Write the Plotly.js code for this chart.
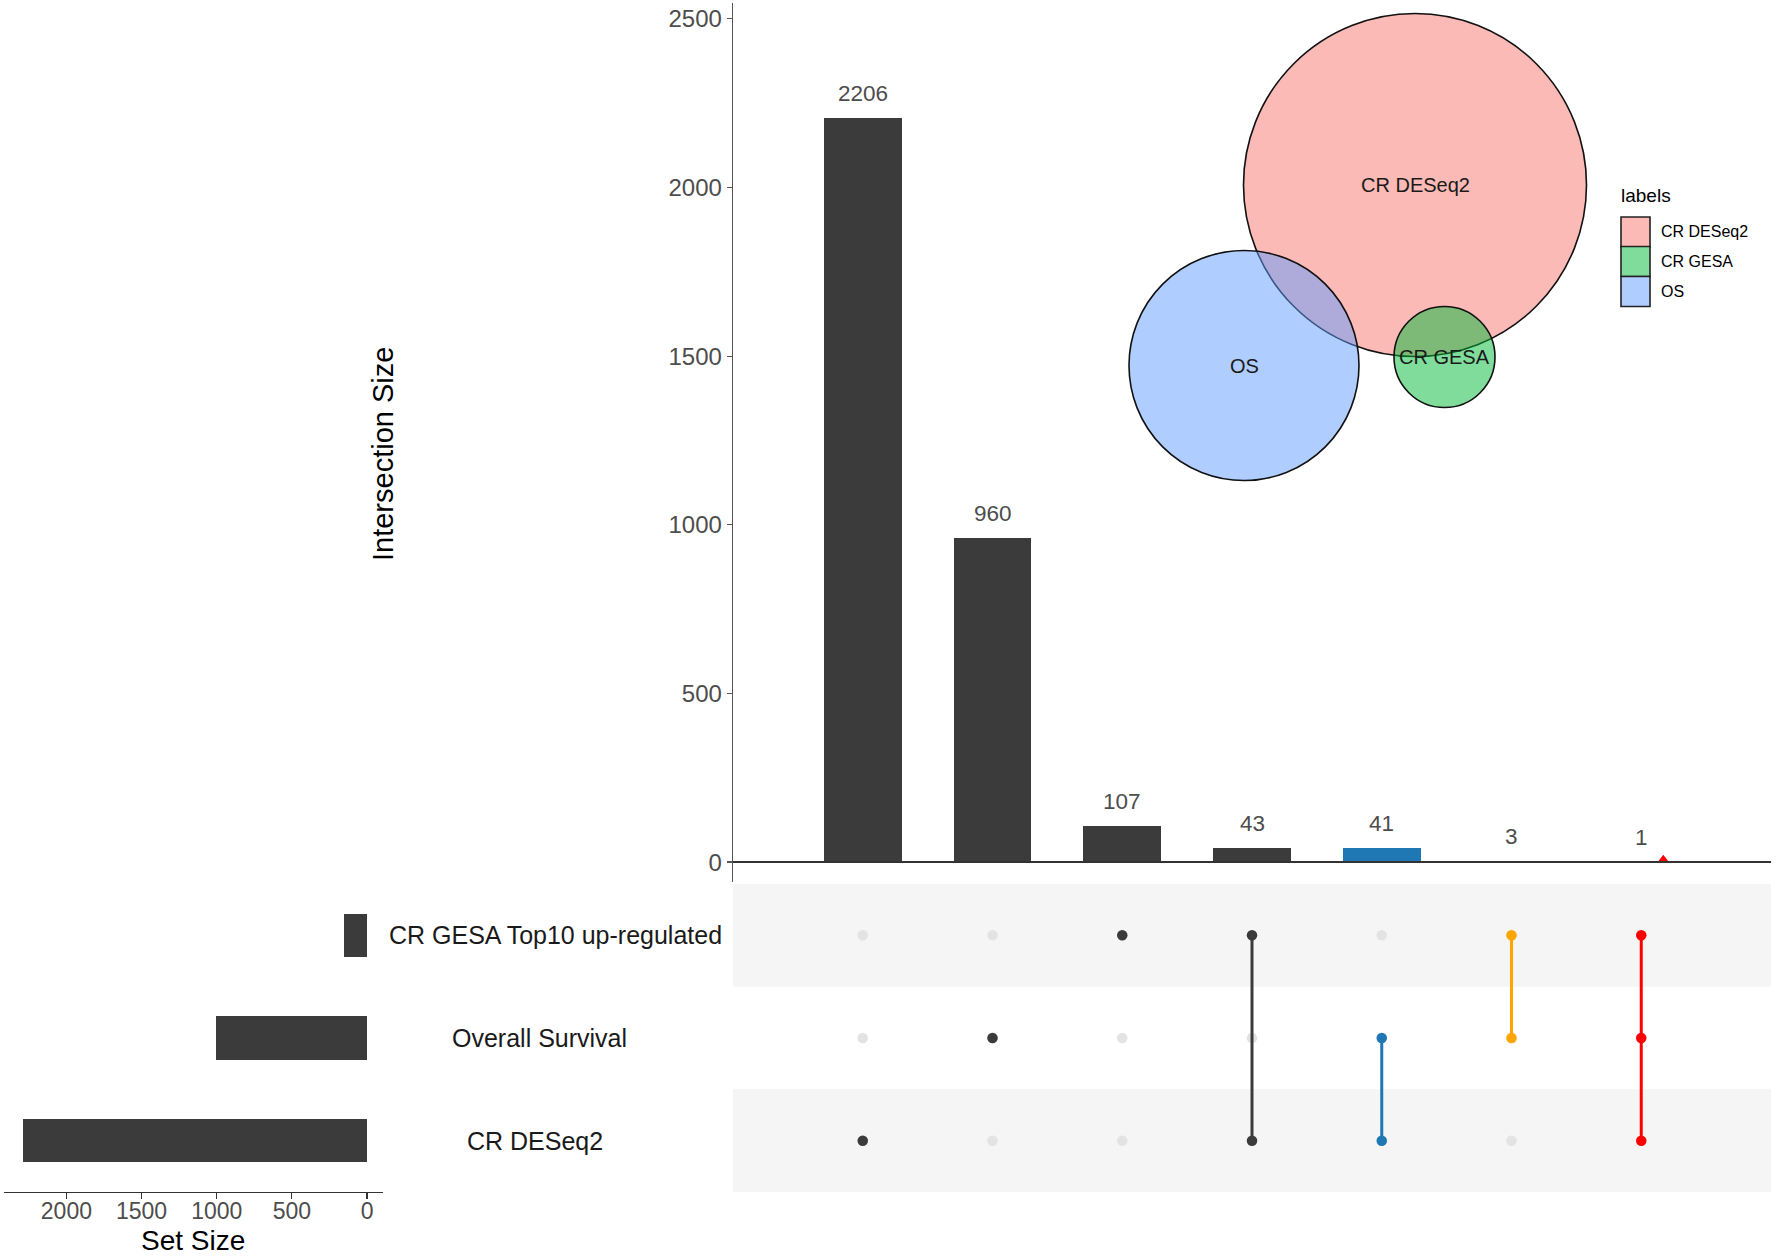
<!DOCTYPE html>
<html>
<head>
<meta charset="utf-8">
<script src="https://cdn.plot.ly/plotly-3.0.1.min.js"></script>
<style>html,body{margin:0;padding:0;background:#fff;}#chart{width:1776px;height:1256px;}</style>
</head>
<body>
<div id="chart"></div>
<script>
// ---------- DATA ----------
const setNames = ["CR GESA Top10 up-regulated", "Overall Survival", "CR DESeq2"];
const setSizes = [154, 1005, 2291];
const intersectionSizes = [2206, 960, 107, 43, 41, 3, 1];
// membership: indices into setNames for each intersection column
const membership = [[2], [1], [0], [0, 2], [1, 2], [0, 1], [0, 1, 2]];
const comboColors = ["#3b3b3b", "#3b3b3b", "#3b3b3b", "#3b3b3b", "#1f77b4", "#ffa500", "#ff0000"];
const yTicks = [0, 500, 1000, 1500, 2000, 2500];
const setSizeTicks = [0, 500, 1000, 1500, 2000];
// Venn inset (units: venn canvas)
const vennLabels = ["CR DESeq2", "OS", "CR GESA"];
const vennCx = [1415, 1244, 1444.5];
const vennCy = [185, 365.5, 357];
const vennR = [171.5, 115, 50.5];
const vennFill = ["rgba(248,118,109,0.5)", "rgba(97,156,255,0.5)", "rgba(0,186,56,0.5)"];
const legendLabels = ["CR DESeq2", "CR GESA", "OS"];
const legendFill = ["#fcbab6", "#7fdc9b", "#b0cdff"];

// ---------- HELPERS ----------
const W = 1776, H = 1256;
const px = x => x / W;
const py = y => 1 - y / H;
const FONT = "Liberation Sans, Arial, Helvetica, sans-serif";
const cols = intersectionSizes.map((_, i) => i + 1);
const rowOf = s => setNames.length - s; // set index -> y row (top row = 3)

const traces = [];

// Intersection bars
traces.push({
  type: "bar", x: cols, y: intersectionSizes, xaxis: "x", yaxis: "y",
  marker: { color: comboColors, line: { width: 0 } }, width: 0.6, hoverinfo: "x+y"
});
// small red triangle marker near last column
traces.push({
  type: "scatter", mode: "markers", x: [cols[6] + 0.17], y: [7], xaxis: "x", yaxis: "y",
  marker: { symbol: "triangle-up", size: 10, color: "#ff0000" }, hoverinfo: "skip"
});

// Set size bars
traces.push({
  type: "bar", orientation: "h", x: setSizes, y: setNames.map((_, i) => rowOf(i)),
  xaxis: "x3", yaxis: "y3", width: 0.42, marker: { color: "#3b3b3b" }, hoverinfo: "x"
});

// Matrix: background light dots
const bgX = [], bgY = [];
cols.forEach(c => setNames.forEach((_, s) => { bgX.push(c); bgY.push(rowOf(s)); }));
traces.push({
  type: "scatter", mode: "markers", x: bgX, y: bgY, xaxis: "x2", yaxis: "y2",
  marker: { size: 10.5, color: "#e3e3e3" }, hoverinfo: "skip"
});
// Matrix: connecting lines
membership.forEach((m, i) => {
  if (m.length > 1) {
    const rows = m.map(rowOf);
    traces.push({
      type: "scatter", mode: "lines", x: [cols[i], cols[i]],
      y: [Math.min(...rows), Math.max(...rows)], xaxis: "x2", yaxis: "y2",
      line: { color: comboColors[i], width: 3 }, hoverinfo: "skip"
    });
  }
});
// Matrix: active dots
const aX = [], aY = [], aC = [];
membership.forEach((m, i) => m.forEach(s => { aX.push(cols[i]); aY.push(rowOf(s)); aC.push(comboColors[i]); }));
traces.push({
  type: "scatter", mode: "markers", x: aX, y: aY, xaxis: "x2", yaxis: "y2",
  marker: { size: 10.5, color: aC }, hoverinfo: "skip"
});

// ---------- SHAPES ----------
const shapes = [];
// stripes
[3, 1].forEach(r => shapes.push({
  type: "rect", xref: "x2", yref: "y2", x0: 0, x1: 8, y0: r - 0.5, y1: r + 0.5,
  fillcolor: "#f5f5f5", line: { width: 0 }, layer: "below"
}));
// zero line (drawn over the bars)
shapes.push({ type: "line", xref: "x", yref: "y", x0: 0, x1: 8, y0: 0, y1: 0, line: { color: "#333", width: 2 }, layer: "above" });
// venn circles
vennLabels.forEach((_, i) => shapes.push({
  type: "circle", xref: "x4", yref: "y4",
  x0: vennCx[i] - vennR[i], x1: vennCx[i] + vennR[i], y0: vennCy[i] - vennR[i], y1: vennCy[i] + vennR[i],
  fillcolor: vennFill[i], line: { color: "#111", width: 1.6 }, layer: "above"
}));
// legend keys
const keyTop = [217, 246.5, 276.5], keyH = 30;
legendLabels.forEach((_, i) => shapes.push({
  type: "rect", xref: "paper", yref: "paper",
  x0: px(1621), x1: px(1650), y0: py(keyTop[i] + keyH), y1: py(keyTop[i]),
  fillcolor: legendFill[i], line: { color: "#222", width: 1.6 }
}));

// ---------- ANNOTATIONS ----------
const ann = [];
intersectionSizes.forEach((v, i) => ann.push({
  xref: "x", yref: "y", x: cols[i], y: v, text: String(v), showarrow: false,
  yanchor: "bottom", yshift: 10, font: { size: 22.5, color: "#4d4d4d", family: FONT }
}));
const labelCx = [555, 539, 535];
setNames.forEach((n, i) => ann.push({
  xref: "paper", yref: "y2", x: px(labelCx[i]), y: rowOf(i), text: n, showarrow: false,
  xanchor: "center", yanchor: "middle", font: { size: 25, color: "#1a1a1a", family: FONT }
}));
ann.push({
  xref: "paper", yref: "paper", x: px(383), y: py(454), text: "Intersection Size", textangle: -90,
  showarrow: false, xanchor: "center", yanchor: "middle", font: { size: 29, color: "#000", family: FONT }
});
ann.push({
  xref: "paper", yref: "paper", x: px(193), y: py(1240), text: "Set Size",
  showarrow: false, xanchor: "center", yanchor: "middle", font: { size: 28, color: "#000", family: FONT }
});
vennLabels.forEach((l, i) => ann.push({
  xref: "x4", yref: "y4", x: vennCx[i], y: vennCy[i], text: l, showarrow: false,
  xanchor: "center", yanchor: "middle", font: { size: 20, color: "#1a1a1a", family: FONT }
}));
ann.push({
  xref: "paper", yref: "paper", x: px(1619), y: py(196), text: "labels", showarrow: false,
  xanchor: "left", yanchor: "middle", font: { size: 19, color: "#000", family: FONT }
});
legendLabels.forEach((l, i) => ann.push({
  xref: "paper", yref: "paper", x: px(1659), y: py(keyTop[i] + keyH / 2), text: l, showarrow: false,
  xanchor: "left", yanchor: "middle", font: { size: 16, color: "#000", family: FONT }
}));

// ---------- LAYOUT ----------
const matrixDomain = [py(1192), py(884)];
const topDomainX = [px(733), px(1771)];
const layout = {
  width: W, height: H, margin: { l: 0, r: 0, t: 0, b: 0, pad: 0 },
  paper_bgcolor: "#fff", plot_bgcolor: "rgba(0,0,0,0)", showlegend: false,
  font: { family: FONT },
  bargap: 0,
  xaxis: { domain: topDomainX, range: [0, 8], visible: false, anchor: "y", fixedrange: true },
  yaxis: {
    domain: [py(882), py(3)], range: [-59, 2547], anchor: "x",
    showline: true, linecolor: "#555", linewidth: 1.3, ticks: "outside", ticklen: 5, tickcolor: "#555", tickwidth: 1.2,
    tickvals: yTicks, ticktext: yTicks.map(String), tickfont: { size: 24, color: "#4d4d4d", family: FONT },
    showgrid: false, zeroline: false
  },
  xaxis2: { domain: topDomainX, range: [0, 8], visible: false, anchor: "y2" },
  yaxis2: { domain: matrixDomain, range: [0.5, 3.5], visible: false, anchor: "x2" },
  xaxis3: {
    domain: [px(4), px(383)], range: [2415, -106], anchor: "y3",
    showline: true, linecolor: "#333", linewidth: 1.3, ticks: "outside", ticklen: 6, tickcolor: "#333", tickwidth: 1.2,
    ticklabelstandoff: -8,
    tickvals: setSizeTicks, ticktext: setSizeTicks.map(String), tickfont: { size: 23, color: "#4d4d4d", family: FONT },
    showgrid: false, zeroline: false
  },
  yaxis3: { domain: matrixDomain, range: [0.5, 3.5], visible: false, anchor: "x3" },
  xaxis4: { domain: [0, 1], range: [0, W], visible: false, anchor: "y4" },
  yaxis4: { domain: [0, 1], range: [H, 0], visible: false, anchor: "x4" },
  shapes: shapes,
  annotations: ann
};

Plotly.newPlot("chart", traces, layout, { staticPlot: true, displayModeBar: false });
</script>
</body>
</html>
